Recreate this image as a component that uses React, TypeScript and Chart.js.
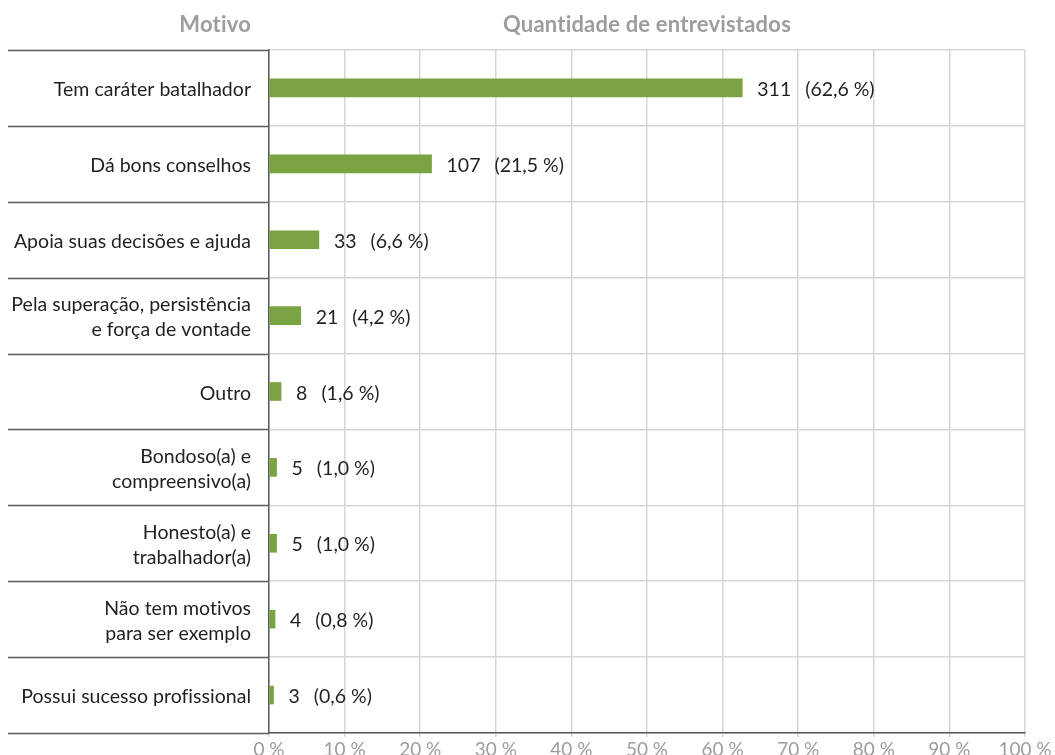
import React, { useEffect, useRef } from "react";
import { Chart, registerables } from "chart.js";

Chart.register(...registerables);

const categories: string[][] = [
  ["Tem caráter batalhador"],
  ["Dá bons conselhos"],
  ["Apoia suas decisões e ajuda"],
  ["Pela superação, persistência", "e força de vontade"],
  ["Outro"],
  ["Bondoso(a) e", "compreensivo(a)"],
  ["Honesto(a) e", "trabalhador(a)"],
  ["Não tem motivos", "para ser exemplo"],
  ["Possui sucesso profissional"],
];

const counts = [311, 107, 33, 21, 8, 5, 5, 4, 3];
const percents = [62.6, 21.5, 6.6, 4.2, 1.6, 1.0, 1.0, 0.8, 0.6];

const xTicks = [0, 10, 20, 30, 40, 50, 60, 70, 80, 90, 100];

const headerLeft = "Motivo";
const headerRight = "Quantidade de entrevistados";

const FONT = "Lato";
const DARK = "#231f20";
const GREY = "#9d9d9d";
const LINE_DARK = "#5a5a5a";
const GRID = "#d6d6d6";
const BAR = "#7aa443";
const TEXT_SIZE = 19.5;
const LINE_H = 25;

function noLig(ctx: any, sp: string) {
  try {
    ctx.letterSpacing = sp;
  } catch (e) {}
}

const decorPlugin = {
  id: "decor",
  beforeDatasetsDraw(chart: any) {
    const { ctx, chartArea } = chart;
    const n = chart.data.labels.length;
    const h = (chartArea.bottom - chartArea.top) / n;
    ctx.save();
    ctx.strokeStyle = LINE_DARK;
    ctx.lineWidth = 1.5;
    for (let i = 0; i <= n; i++) {
      const y = Math.round(chartArea.top + i * h) + 0.5;
      ctx.beginPath();
      ctx.moveTo(8, y);
      ctx.lineTo(chartArea.left, y);
      ctx.stroke();
    }
    const yScale = chart.scales.y;
    noLig(ctx, "0.02px");
    ctx.fillStyle = DARK;
    ctx.font = `${TEXT_SIZE}px ${FONT}`;
    ctx.textAlign = "right";
    ctx.textBaseline = "alphabetic";
    chart.data.labels.forEach((lab: string[], i: number) => {
      const cy = yScale.getPixelForValue(i);
      const start = cy - ((lab.length - 1) * LINE_H) / 2;
      lab.forEach((line: string, j: number) => {
        ctx.fillText(line, chartArea.left - 18, start + j * LINE_H + 8);
      });
    });
    ctx.restore();
  },
  afterDraw(chart: any) {
    const { ctx, chartArea } = chart;
    ctx.save();
    noLig(ctx, "0.2px");
    ctx.fillStyle = GREY;
    ctx.font = `bold 22px ${FONT}`;
    ctx.textBaseline = "alphabetic";
    ctx.textAlign = "right";
    ctx.fillText(headerLeft, chartArea.left - 18, 32);
    ctx.textAlign = "center";
    ctx.fillText(headerRight, (chartArea.left + chartArea.right) / 2, 32);
    ctx.restore();
  },
  afterDatasetsDraw(chart: any) {
    const { ctx } = chart;
    const meta = chart.getDatasetMeta(0);
    ctx.save();
    ctx.fillStyle = DARK;
    ctx.font = `${TEXT_SIZE}px ${FONT}`;
    ctx.textBaseline = "alphabetic";
    ctx.textAlign = "left";
    meta.data.forEach((el: any, i: number) => {
      const a = `${counts[i]}`;
      const b = `(${percents[i].toFixed(1).replace(".", ",")} %)`;
      const x0 = el.x + 15;
      ctx.fillText(a, x0, el.y + 8);
      const w = ctx.measureText(a).width;
      ctx.fillText(b, x0 + w + 14, el.y + 8);
    });
    ctx.restore();
  },
};

export default function App() {
  const ref = useRef<HTMLCanvasElement>(null);
  useEffect(() => {
    if (!ref.current) return;
    const chart = new Chart(ref.current, {
      type: "bar",
      data: {
        labels: categories,
        datasets: [
          {
            data: percents,
            backgroundColor: BAR,
            borderWidth: 0,
            barThickness: 18,
          },
        ],
      },
      options: {
        indexAxis: "y",
        animation: false,
        responsive: false,
        devicePixelRatio: 1,
        layout: { padding: { left: 8, top: 50, right: 30, bottom: 0 } },
        plugins: { legend: { display: false }, tooltip: { enabled: false } },
        scales: {
          x: {
            min: 0,
            max: 100,
            afterBuildTicks: (scale: any) => {
              scale.ticks = xTicks.map((v) => ({ value: v }));
            },
            afterFit: (scale: any) => {
              scale.height = 22;
            },
            grid: { color: GRID, drawTicks: true, tickLength: 4, tickColor: GRID, lineWidth: 1.5 },
            border: { color: LINE_DARK, width: 1.5 },
            ticks: {
              color: GREY,
              padding: 1,
              font: { family: FONT, size: 19 },
              callback: (v: any) => `${v} %`,
              maxRotation: 0,
              autoSkip: false,
            },
          },
          y: {
            afterFit: (scale: any) => {
              scale.width = 261;
            },
            grid: { color: GRID, offset: true, drawTicks: false, lineWidth: 1.5 },
            border: { color: LINE_DARK, width: 1.5 },
            ticks: { display: false },
          },
        },
      },
      plugins: [decorPlugin],
    });
    return () => chart.destroy();
  }, []);
  return (
    <div style={{ position: "absolute", left: 0, top: 0, width: 1055, height: 755, background: "#fff" }}>
      <canvas ref={ref} width={1055} height={755} />
    </div>
  );
}
